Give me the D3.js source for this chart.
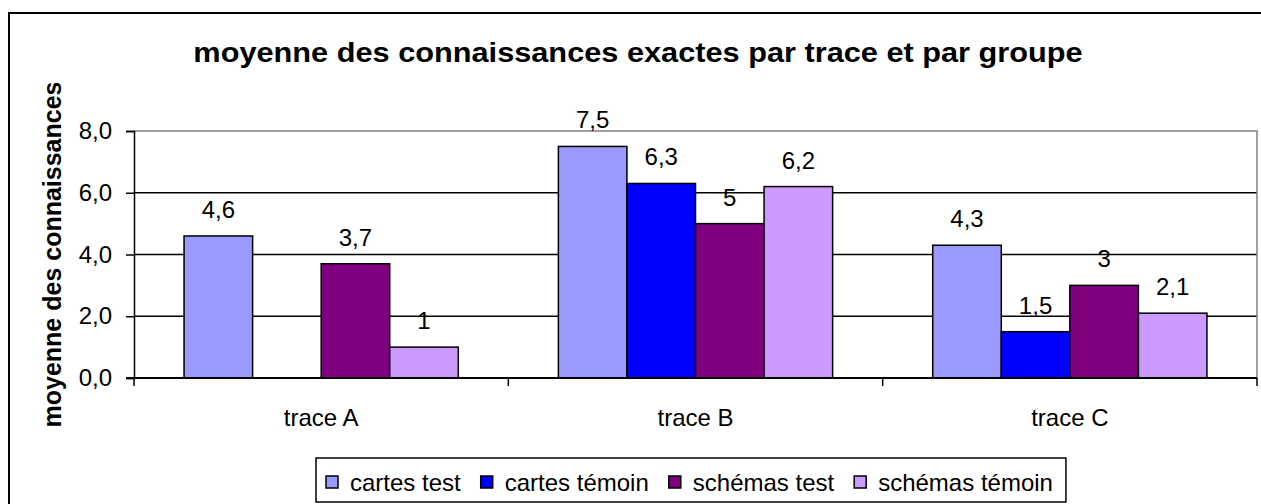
<!DOCTYPE html>
<html>
<head>
<meta charset="utf-8">
<script src="https://cdn.jsdelivr.net/npm/d3@7"></script>
<style>
  body { margin: 0; background: #fff; }
  text { font-family: "Liberation Sans", Arial, sans-serif; fill: #000; }
</style>
</head>
<body>
<div id="chart"></div>
<script>
// data
var traces = ["trace A", "trace B", "trace C"];
var groups = ["cartes test", "cartes témoin", "schémas test", "schémas témoin"];
var cartesTest = [4.6, 7.5, 4.3];
var cartesTemoin = [null, 6.3, 1.5];
var schemasTest = [3.7, 5, 3];
var schemasTemoin = [1, 6.2, 2.1];
var yTicks = [0, 2, 4, 6, 8];
var colors = ["#9999FF", "#0000FF", "#800080", "#CC99FF"];

var series = [cartesTest, cartesTemoin, schemasTest, schemasTemoin];

var w = 1261, h = 504;
// plot area edges
var plotL = 134, plotR = 1257, plotT = 131, plotB = 378;

var svg = d3.select("#chart").append("svg")
    .attr("width", w)
    .attr("height", h);

// chart frame (runs off the right and bottom edges)
svg.append("rect")
    .attr("x", 9).attr("y", 13)
    .attr("width", 1300).attr("height", 600)
    .attr("fill", "none").attr("stroke", "#000").attr("stroke-width", 2);

var x0 = d3.scaleBand().domain(traces).range([plotL, plotR]);
var x1 = d3.scaleBand().domain(groups).range([0, x0.bandwidth()]).paddingOuter(0.73);
var y = d3.scaleLinear().domain([0, 8]).range([plotB, plotT]);

var fmt = function (v) { return String(v).replace(".", ","); };

// gridlines
svg.append("g").selectAll("line")
    .data(yTicks.filter(function (d) { return d > 0 && d < 8; }))
    .enter().append("line")
    .attr("x1", plotL).attr("x2", plotR)
    .attr("y1", function (d) { return y(d); })
    .attr("y2", function (d) { return y(d); })
    .attr("stroke", "#000").attr("stroke-width", 1.5);

// plot area border (grey top and right)
svg.append("path")
    .attr("d", "M" + plotL + "," + y(8) + "H" + plotR + "V" + plotB)
    .attr("fill", "none").attr("stroke", "#808080").attr("stroke-width", 1.5);

// bars
var rows = [];
traces.forEach(function (t, i) {
    groups.forEach(function (g, j) {
        if (series[j][i] != null) rows.push({ trace: t, group: g, v: series[j][i], c: colors[j] });
    });
});

svg.append("g").selectAll("rect")
    .data(rows).enter().append("rect")
    .attr("x", function (d) { return x0(d.trace) + x1(d.group); })
    .attr("y", function (d) { return y(d.v); })
    .attr("width", x1.bandwidth())
    .attr("height", function (d) { return plotB - y(d.v); })
    .attr("fill", function (d) { return d.c; })
    .attr("stroke", "#000").attr("stroke-width", 1.5);

// value labels
svg.append("g").selectAll("text")
    .data(rows).enter().append("text")
    .attr("x", function (d) { return x0(d.trace) + x1(d.group) + x1.bandwidth() / 2; })
    .attr("y", function (d) { return y(d.v) - 18; })
    .attr("text-anchor", "middle")
    .style("font-size", "24px")
    .text(function (d) { return fmt(d.v); });

// y axis
var yAxis = d3.axisLeft(y).tickValues(yTicks).tickSize(8).tickPadding(14)
    .tickFormat(function (d) { return d3.format(".1f")(d).replace(".", ","); });
var gy = svg.append("g")
    .attr("transform", "translate(" + plotL + ",0)")
    .call(yAxis);
gy.select(".domain").attr("stroke", "#000").attr("stroke-width", 1.5);
gy.selectAll(".tick line").attr("stroke", "#000").attr("stroke-width", 1.5);
gy.selectAll(".tick text").style("font-size", "24px").attr("font-family", null);

// x axis: ticks between categories
svg.append("line")
    .attr("x1", plotL - 8).attr("x2", plotR)
    .attr("y1", plotB).attr("y2", plotB)
    .attr("stroke", "#000").attr("stroke-width", 2);
svg.append("g").selectAll("line")
    .data(traces.concat(["end"])).enter().append("line")
    .attr("x1", function (d) { return d === "end" ? plotR : x0(d); })
    .attr("x2", function (d) { return d === "end" ? plotR : x0(d); })
    .attr("y1", plotB).attr("y2", plotB + 8)
    .attr("stroke", "#000").attr("stroke-width", 1.5);

svg.append("g").selectAll("text")
    .data(traces).enter().append("text")
    .attr("x", function (d) { return x0(d) + x0.bandwidth() / 2; })
    .attr("y", 426)
    .attr("text-anchor", "middle")
    .style("font-size", "24px")
    .text(function (d) { return d; });

// title -- the original is stretched sideways, so widen it to ~890px
var title = svg.append("text")
    .attr("text-anchor", "middle")
    .style("font-size", "27px").style("font-weight", "bold")
    .text("moyenne des connaissances exactes par trace et par groupe");
var sx = 890 / title.node().getComputedTextLength();
title.attr("transform", "translate(638,62) scale(" + sx + ",1)");

// y axis title
svg.append("text")
    .attr("transform", "translate(61," + ((plotT + plotB) / 2) + ") rotate(-90)")
    .attr("text-anchor", "middle")
    .style("font-size", "25px").style("font-weight", "bold")
    .text("moyenne des connaissances");

// legend
var legend = svg.append("g");
var lx = 326;
groups.forEach(function (g, i) {
    var item = legend.append("g").attr("transform", "translate(" + lx + ",0)");
    item.append("rect")
        .attr("x", 0).attr("y", 476).attr("width", 12).attr("height", 12)
        .attr("fill", colors[i]).attr("stroke", "#000").attr("stroke-width", 1.5);
    var t = item.append("text")
        .attr("x", 24).attr("y", 491)
        .style("font-size", "24px")
        .text(g);
    lx += 24 + t.node().getComputedTextLength() + 20;
});
legend.insert("rect", ":first-child")
    .attr("x", 316).attr("y", 458)
    .attr("width", lx - 20 + 13 - 316).attr("height", 44)
    .attr("fill", "#fff").attr("stroke", "#000").attr("stroke-width", 1.5);
</script>
</body>
</html>
